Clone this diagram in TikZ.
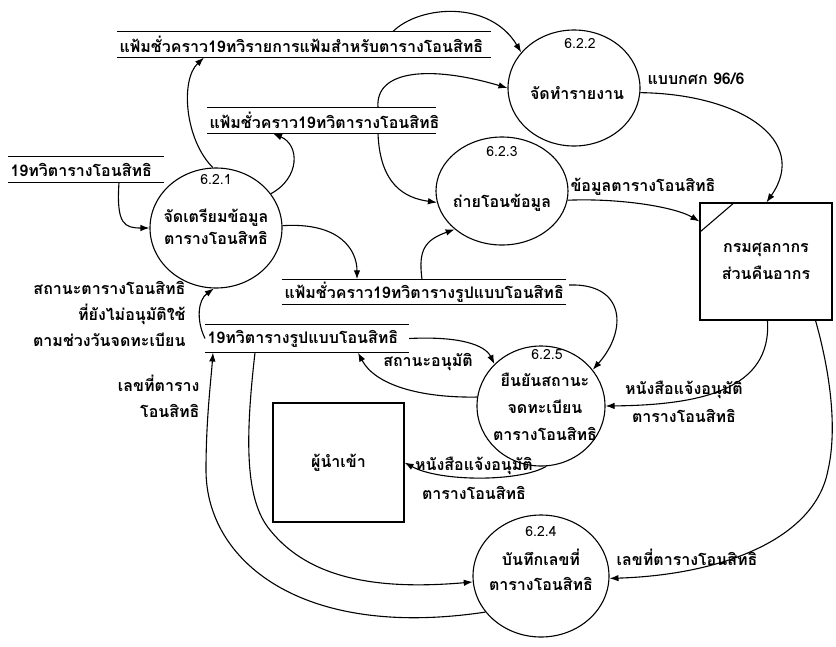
\documentclass[tikz,border=0pt]{standalone}
\usepackage{fontspec}
\newfontfamily\thai[Script=Thai]{Loma}
\usetikzlibrary{shapes.geometric,arrows.meta}
\begin{document}
\begin{tikzpicture}[x=1pt,y=-1pt,line width=1.1pt,
  every node/.style={font=\thai\bfseries\fontsize{16}{20}\selectfont},
  proc/.style={ellipse,draw,inner sep=0},
  ext/.style={rectangle,draw,inner sep=0,align=center},
  store/.style={anchor=west,inner sep=2pt,align=left},
  lbl/.style={inner sep=1pt,align=center,font=\thai\bfseries\fontsize{16}{#1}\selectfont},
  lbl/.default=20,
  num/.style={inner sep=1pt,font=\thai\fontsize{14}{16}\selectfont},
  flow/.style={-{Latex[length=9pt,width=6.5pt]}}]
\fill[white] (0,0) rectangle (836,646);
\useasboundingbox (0,0) rectangle (836,646);

% data stores
\node[store,minimum height=25,text width=369] (s1) at (117,44.5) {แฟ้มชั่วคราว19ทวิรายการแฟ้มสำหรับตารางโอนสิทธิ};
\node[store,minimum height=25,text width=224] (s2) at (207,120.5) {แฟ้มชั่วคราว19ทวิตารางโอนสิทธิ};
\node[store,minimum height=25,text width=151] (s3) at (8,169.5) {19ทวิตารางโอนสิทธิ};
\node[store,minimum height=24,text width=279] (s4) at (282,292) {แฟ้มชั่วคราว19ทวิตารางรูปแบบโอนสิทธิ};
\node[store,minimum height=27,text width=199] (s5) at (205,338.5) {19ทวิตารางรูปแบบโอนสิทธิ};
\foreach \s in {s1,s2,s3,s4,s5}{
  \draw (\s.north west) -- (\s.north east) (\s.south west) -- (\s.south east);
}

% processes
\node[proc,minimum width=132,minimum height=120] (p1) at (216,228) {};
\node[num] (p1n) at (216,180) {6.2.1};
\node[lbl=22] (p1t) at (216,227) {จัดเตรียมข้อมูล\\ตารางโอนสิทธิ};

\node[proc,minimum width=132,minimum height=116] (p2) at (574,88) {};
\node[num] (p2n) at (580,44) {6.2.2};
\node[lbl] (p2t) at (577,93) {จัดทำรายงาน};

\node[proc,minimum width=132,minimum height=108] (p3) at (502,191) {};
\node[num] (p3n) at (502,152) {6.2.3};
\node[lbl] (p3t) at (502,203) {ถ่ายโอนข้อมูล};

\node[proc,minimum width=128,minimum height=120] (p5) at (541,406) {};
\node[num] (p5n) at (547,355) {6.2.5};
\node[lbl=27] (p5t) at (545,407) {ยืนยันสถานะ\\จดทะเบียน\\ตารางโอนสิทธิ};

\node[proc,minimum width=136,minimum height=122] (p4) at (541,576) {};
\node[num] (p4n) at (541,532) {6.2.4};
\node[lbl=25] (p4t) at (541,570) {บันทึกเลขที่\\ตารางโอนสิทธิ};

% external entities
\node[ext,minimum width=132,minimum height=117,font=\thai\bfseries\fontsize{16}{27}\selectfont] (cu) at (766,261.5) {กรมศุลกากร\\ส่วนคืนอากร};
\draw ([yshift=-30]cu.north west) -- ([xshift=35]cu.north west);
\node[ext,minimum width=131,minimum height=119] (im) at (338.5,462.5) {ผู้นำเข้า};

% flow labels
\node[lbl,anchor=west] (l1) at (646,79) {แบบกศก 96/6};
\node[lbl,anchor=west] (l2) at (569,187) {ข้อมูลตารางโอนสิทธิ};
\node[lbl=26,anchor=east,align=right] (l3) at (187,314) {สถานะตารางโอนสิทธิ\\ที่ยังไม่อนุมัติใช้\\ตามช่วงวันจดทะเบียน};
\node[lbl] (l4) at (428,362) {สถานะอนุมัติ};
\node[lbl=28] (l5) at (684,402) {หนังสือแจ้งอนุมัติ\\ตารางโอนสิทธิ};
\node[lbl=26,anchor=east,align=right] (l6) at (201,396) {เลขที่ตาราง\\โอนสิทธิ};
\node[lbl=29] (l7) at (474,478) {หนังสือแจ้งอนุมัติ\\ตารางโอนสิทธิ};
\node[lbl] (l8) at (687,557) {เลขที่ตารางโอนสิทธิ};

% flows
\draw[flow] (p1.93) .. controls (185,140) and (180,80) .. ([xshift=87]s1.south west);
\draw[flow] (p1.32) .. controls (300,178) and (300,145) .. ([xshift=66]s2.south west);
\draw[flow] ([xshift=111]s3.south west) .. controls (116,225) and (125,228) .. (p1.180);
\draw[flow] (p1.2) .. controls (340,222) and (357,250) .. ([xshift=75]s4.north west);
\draw[flow] (s5.west) .. controls (196,320) and (198,300) .. (p1.268);
\draw[flow] ([xshift=140]s4.north west) .. controls (418,250) and (425,240) .. (p3.219);
\draw[flow] ([xshift=171]s2.north west) .. controls (375,70) and (430,65) .. (p2.180);
\draw[flow] ([xshift=171]s2.south west) .. controls (380,185) and (405,198) .. (p3.190);
\draw[flow] ([xshift=276]s1.north west) .. controls (420,5) and (490,0) .. (p2.146);
\draw[flow] (p2.-4) .. controls (740,94) and (810,140) .. ([xshift=67]cu.north west);
\draw[flow] (p3.-8) .. controls (620,198) and (675,207) .. ([yshift=-19]cu.north west);
\draw[flow] ([xshift=3,yshift=7]s4.east) .. controls (625,283) and (628,330) .. (p5.35);
\draw[flow] (s5.east) .. controls (460,336) and (485,345) .. (p5.138);
\draw[flow] (p5.172) .. controls (420,398) and (375,385) .. ([xshift=153]s5.south west);
\draw[flow] ([xshift=68]cu.south west) .. controls (772,390) and (700,405) .. (p5.0);
\draw[flow] (p5.275) .. controls (520,482) and (440,482) .. (im.east);
\draw[flow] ([xshift=-17]cu.south east) .. controls (835,390) and (835,440) .. (828,470) .. controls (815,540) and (720,575) .. (p4.358);
\draw[flow] ([xshift=50]s5.south west) .. controls (245,440) and (245,500) .. (270,530) .. controls (310,580) and (380,590) .. (p4.185);
\draw[flow] (p4.213) .. controls (300,640) and (206,560) .. (206,470) .. controls (206,420) and (211,380) .. ([xshift=8]s5.south west);
\end{tikzpicture}
\end{document}
